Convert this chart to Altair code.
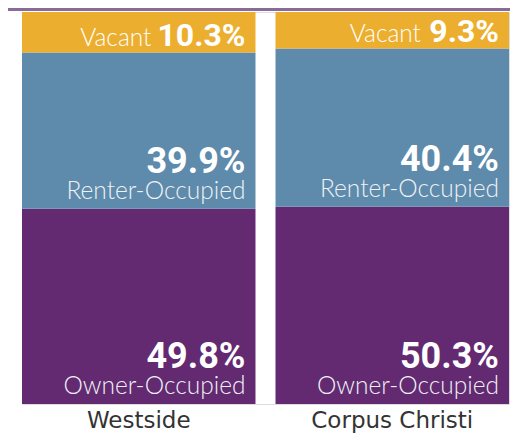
import altair as alt
import pandas as pd

locations = ["Westside", "Corpus Christi"]
categories = ["Owner-Occupied", "Renter-Occupied", "Vacant"]
owner = [49.8, 50.3]
renter = [39.9, 40.4]
vacant = [10.3, 9.3]
colors = ["#632a71", "#5e8aab", "#ecae2e"]

rows = []
for i, loc in enumerate(locations):
    for j, (cat, vals) in enumerate(zip(categories, [owner, renter, vacant])):
        rows.append({"loc": loc, "cat": cat, "value": vals[i], "order": j,
                     "pct": f"{vals[i]:.1f}%"})
df = pd.DataFrame(rows)

PCT_FONT = "Roboto"
LBL_FONT = "Lato"

base = alt.Chart(df).transform_stack(
    stack="value", groupby=["loc"], as_=["v0", "v1"],
    sort=[alt.SortField("order", order="ascending")]
)

xband = alt.X("loc:N", sort=locations,
              scale=alt.Scale(paddingInner=0.079, paddingOuter=0),
              axis=alt.Axis(title=None, domain=False, ticks=False, labelAngle=0,
                            labelFont="DejaVu Sans", labelFontSize=23,
                            labelColor="#333333", labelPadding=5))
xend = alt.X("loc:N", sort=locations, bandPosition=1)
yscale = alt.Scale(domain=[0, 100])

bars = base.mark_bar().encode(
    x=xband,
    y=alt.Y("v0:Q", scale=yscale, axis=None),
    y2="v1:Q",
    color=alt.Color("cat:N", scale=alt.Scale(domain=categories, range=colors), legend=None),
)

two_line = base.transform_filter(alt.datum.cat != "Vacant")

pct = two_line.mark_text(align="right", baseline="alphabetic", dx=-10, dy=-36,
                         font=PCT_FONT, fontSize=36, fontWeight="bold", color="white").encode(
    x=xend, y=alt.Y("v0:Q", scale=yscale), text="pct:N")

lbl = two_line.mark_text(align="right", baseline="alphabetic", dx=-10, dy=-10,
                         font=LBL_FONT, fontSize=24.5, fontWeight=300, color="#eef2f5").encode(
    x=xend, y=alt.Y("v0:Q", scale=yscale), text="cat:N")

vac = base.transform_filter(alt.datum.cat == "Vacant")
vac_pct = vac.mark_text(align="right", baseline="alphabetic", dx=-10, dy=-6,
                        font=PCT_FONT, fontSize=32, fontWeight="bold", color="white").encode(
    x=xend, y=alt.Y("v0:Q", scale=yscale), text="pct:N")

vac_w = vac.transform_filter(alt.datum.loc == "Westside").mark_text(
    align="right", baseline="alphabetic", dx=-104, dy=-6,
    font=LBL_FONT, fontSize=24.5, fontWeight=300, color="white").encode(
    x=xend, y=alt.Y("v0:Q", scale=yscale), text="cat:N")
vac_c = vac.transform_filter(alt.datum.loc == "Corpus Christi").mark_text(
    align="right", baseline="alphabetic", dx=-88, dy=-6,
    font=LBL_FONT, fontSize=24.5, fontWeight=300, color="white").encode(
    x=xend, y=alt.Y("v0:Q", scale=yscale), text="cat:N")

topline = alt.Chart(pd.DataFrame({"a": [0]})).mark_rule(
    color="#8a6b97", strokeWidth=3).encode(
    x=alt.value(-14), x2=alt.value(488), y=alt.value(-2.5))

chart = alt.layer(bars, pct, lbl, vac_pct, vac_w, vac_c, topline).properties(
    width=487, height=392,
    autosize=alt.AutoSizeParams(type="none"),
    padding={"left": 14, "top": 4, "right": 10, "bottom": 30},
).configure_view(stroke=None).configure(background="white")

chart.save("out.html", embed_options={"renderer": "svg", "actions": False})
